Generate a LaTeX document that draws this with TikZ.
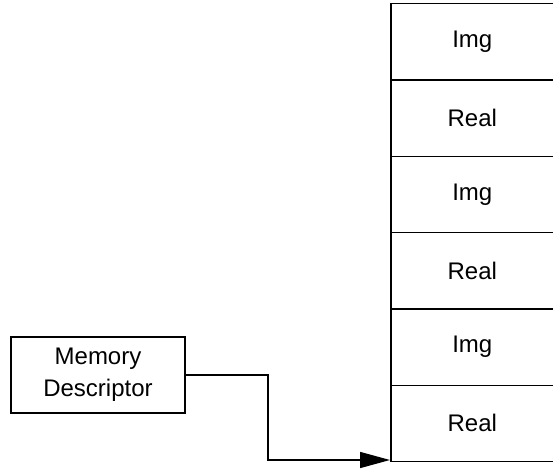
\documentclass[tikz,border=0pt]{standalone}
\usepackage{fontspec}
\setmainfont{Liberation Sans}
\usetikzlibrary{arrows.meta}
\begin{document}
\begin{tikzpicture}[x=1pt,y=-1pt,
  cell/.style={draw=black,line width=1.5pt,minimum width=172pt,minimum height=76.3pt,inner sep=0pt,anchor=north west,execute at begin node={\hspace*{-9pt}},font=\fontsize{24}{28}\selectfont},
  desc/.style={draw=black,line width=1.5pt,minimum width=174pt,minimum height=76pt,inner sep=0pt,align=center,font=\fontsize{24}{32}\selectfont},
  link/.style={draw=black,line width=1.5pt,-{Triangle[length=30pt,width=16pt]}}]
\useasboundingbox (0,0) rectangle (553,468);
\node[cell] (c1) at (390,3) {Img};
\node[cell] (c2) at (390,79.3) {Real};
\node[cell] (c3) at (390,155.6) {Img};
\node[cell] (c4) at (390,231.9) {Real};
\node[cell] (c5) at (390,308.2) {Img};
\node[cell] (c6) at (390,384.5) {Real};
\node[desc] (md) at (98,375) {Memory\\Descriptor};
\coordinate (t) at (390,460);
\draw[link] (md.east) -- (268,375) |- (t);
\end{tikzpicture}
\end{document}
